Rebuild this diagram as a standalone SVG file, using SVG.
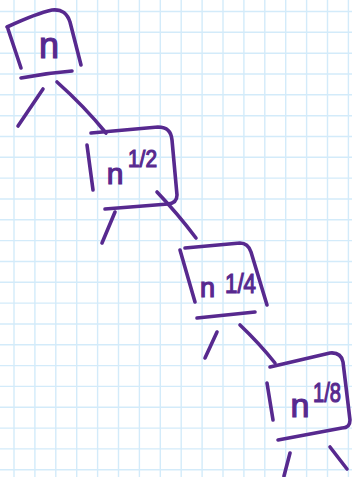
<svg xmlns="http://www.w3.org/2000/svg" width="352" height="477" viewBox="0 0 352 477">
<style>
.grid{stroke:#d3ebfa;stroke-width:1.4;fill:none}
.ink{stroke:#57298f;stroke-width:3.6;fill:none;stroke-linecap:round;stroke-linejoin:round}
.lbl{fill:#57298f;stroke:#57298f;stroke-width:1.2;font-family:"Liberation Sans",Arial,sans-serif}
</style>
<rect width="352" height="477" fill="#ffffff"/>
<path class="grid" d="M14,0V477M34.9,0V477M55.8,0V477M76.7,0V477M97.6,0V477M118.5,0V477M139.4,0V477M160.3,0V477M181.2,0V477M202.1,0V477M223,0V477M243.9,0V477M264.8,0V477M285.7,0V477M306.6,0V477M327.5,0V477M348.4,0V477
M0,11.5H352M0,32.3H352M0,53.2H352M0,74H352M0,94.8H352M0,115.7H352M0,136.5H352M0,157.3H352M0,178.1H352M0,199H352M0,219.8H352M0,240.6H352M0,261.5H352M0,282.3H352M0,303.1H352M0,324H352M0,344.8H352M0,365.6H352M0,386.4H352M0,407.3H352M0,428.1H352M0,448.9H352M0,469.8H352"/>
<g id="connectors" class="ink">
<path d="M57,82 Q84,106 106,133"/>
<path d="M43,89 L18,126"/>
<path d="M157,192 Q178,214 196,238"/>
<path d="M115,212 L102,243"/>
<path d="M240,325 Q259,343 275,363"/>
<path d="M217,332 L205,358"/>
<path d="M290,453 L284,476"/>
<path d="M330,447 L347,469"/>
</g>
<g id="node-n">
<path class="ink" d="M7,27 C20,21 38,13 52,10 C62,9 67,13 70,22 L81,65"/>
<path class="ink" d="M8,29 L21,68"/>
<path class="ink" d="M21,78 Q46,73 72,71"/>
<text class="lbl" x="49" y="58" font-size="36" text-anchor="middle">n</text>
</g>
<g id="node-n12">
<path class="ink" d="M91,133 L158,127 Q171,127 172,140 L177,195 Q177,203 168,204 L105,209"/>
<path class="ink" d="M87,145 L93,190"/>
<text class="lbl" x="115" y="184" font-size="30" text-anchor="middle">n</text>
<text class="lbl" x="128" y="167" font-size="24" textLength="29" lengthAdjust="spacingAndGlyphs">1/2</text>
</g>
<g id="node-n14">
<path class="ink" d="M185,248 L240,243 Q248,243 251,252 L267,305"/>
<path class="ink" d="M180,250 L195,302"/>
<path class="ink" d="M197,318 L255,312"/>
<text class="lbl" x="207.5" y="297" font-size="27" text-anchor="middle">n</text>
<text class="lbl" x="225" y="293" font-size="27" textLength="31" lengthAdjust="spacingAndGlyphs">1/4</text>
</g>
<g id="node-n18">
<path class="ink" d="M270,367 L330,353 Q341,352 343,362 L350,420 Q350,428 342,428 L278,440"/>
<path class="ink" d="M267,383 L273,420"/>
<text class="lbl" x="300" y="417" font-size="34" text-anchor="middle">n</text>
<text class="lbl" x="313" y="402" font-size="28" textLength="28" lengthAdjust="spacingAndGlyphs">1/8</text>
</g>
</svg>
